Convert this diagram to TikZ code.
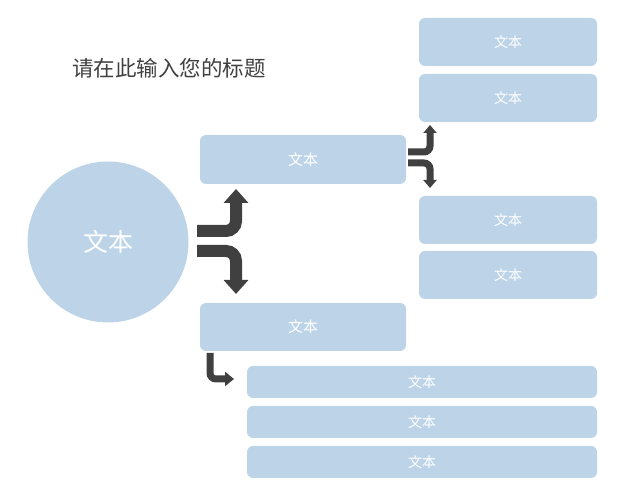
\documentclass[tikz,border=0pt]{standalone}
\usepackage{fontspec}
\newfontfamily\cjk{Noto Sans CJK SC}
\usetikzlibrary{arrows.meta}
\definecolor{BoxBlue}{RGB}{189,212,232}
\definecolor{ArrowGray}{RGB}{64,64,64}
\definecolor{TitleGray}{RGB}{64,64,64}

\begin{document}
\begin{tikzpicture}[x=1pt,y=1pt,box/.style n args={3}{fill=BoxBlue,rounded corners=6pt,minimum width=#1pt,minimum height=#2pt,inner sep=0pt,text=white,font=\cjk\fontsize{#3}{#3}\selectfont},arr/.style n args={4}{draw=ArrowGray,line width=#1pt,rounded corners=#2pt,-{Triangle[width=#3pt,length=#4pt]}}]
\useasboundingbox (0,0) rectangle (640,494);
\node[anchor=west,text=TitleGray,font=\cjk\fontsize{21.5}{21.5}\selectfont,inner sep=0pt](title) at (72,426) {请在此输入您的标题};
\node[circle,fill=BoxBlue,minimum size=161pt,inner sep=0pt,text=white,font=\cjk\fontsize{25}{25}\selectfont](c) at (108,252) {文本};
\node[box={206}{49}{15}](b1) at (303,334.5) {文本};
\node[box={206}{48}{15}](b2) at (303,167) {文本};
\foreach \y/\1 in %
{452/r1,396/r2,274/r3,219/r4} {
   \node[box={178}{48}{14}](\1) at (508,\y) {文本};
}
\foreach \y/\1 in %
{112/s1,72/s2,32/s3} {
   \node[box={350}{32}{14}](\1) at (422,\y) {文本};
}
% arrow ends
\coordinate (c-up) at (197,263);
\coordinate (c-down) at (197,243);
\coordinate (b1-in) at (236,305);
\coordinate (b2-in) at (236,200);
\coordinate (b1-up) at (408,342);
\coordinate (b1-down) at (408,331);
\coordinate (r2-in) at (430,369);
\coordinate (r3-in) at (430,306);
\coordinate (b2-out) at (210,141);
\coordinate (s1-in) at (234,115);
\draw[arr={12}{10}{24}{14}] (c-up) -| (b1-in);
\draw[arr={12}{10}{24}{14}] (c-down) -| (b2-in);
\draw[arr={7}{6}{13}{8}] (b1-up) -| (r2-in);
\draw[arr={7}{6}{13}{8}] (b1-down) -| (r3-in);
\draw[arr={7}{6}{14}{9}] (b2-out) |- (s1-in);
\end{tikzpicture}
\end{document}
